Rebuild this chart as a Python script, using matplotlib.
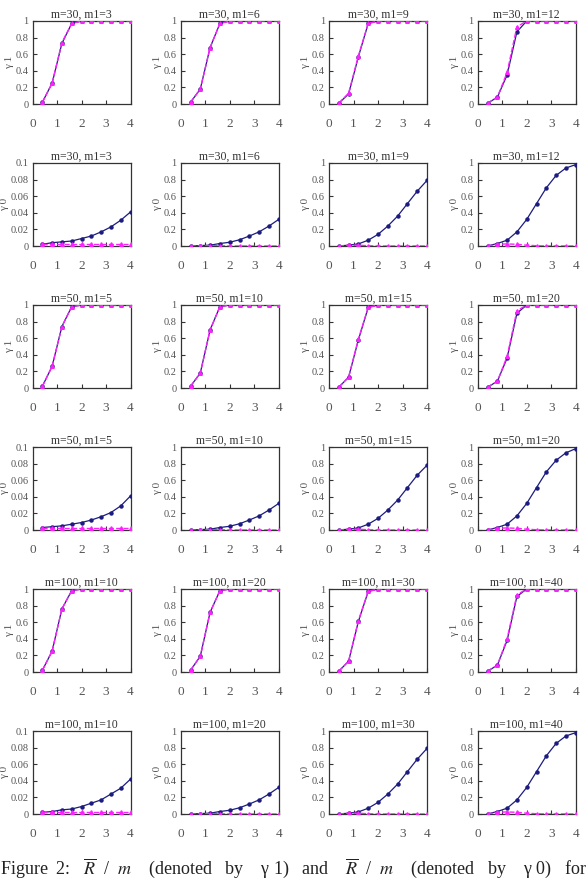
import matplotlib
matplotlib.use("Agg")
import matplotlib.pyplot as plt

# x positions of the data points
x = [0.4, 0.8, 1.2, 1.6, 2.0, 2.4, 2.8, 3.2, 3.6, 4.0]

m_values = [30, 50, 100]
m1_values = {30: [3, 6, 9, 12], 50: [5, 10, 15, 20], 100: [10, 20, 30, 40]}

# gamma 1 (simulation, navy) per m, one list per column
g1_sim_m30 = [[0.02, 0.25, 0.73, 0.97, 1, 1, 1, 1, 1, 1],
              [0.02, 0.18, 0.68, 0.97, 1, 1, 1, 1, 1, 1],
              [0.01, 0.12, 0.57, 0.97, 1, 1, 1, 1, 1, 1],
              [0.01, 0.08, 0.35, 0.87, 1, 1, 1, 1, 1, 1]]
g1_sim_m50 = [[0.02, 0.26, 0.74, 0.98, 1, 1, 1, 1, 1, 1],
              [0.02, 0.18, 0.70, 0.98, 1, 1, 1, 1, 1, 1],
              [0.01, 0.13, 0.58, 0.97, 1, 1, 1, 1, 1, 1],
              [0.01, 0.08, 0.36, 0.90, 1, 1, 1, 1, 1, 1]]
g1_sim_m100 = [[0.02, 0.25, 0.76, 0.98, 1, 1, 1, 1, 1, 1],
               [0.02, 0.19, 0.72, 0.98, 1, 1, 1, 1, 1, 1],
               [0.01, 0.13, 0.61, 0.97, 1, 1, 1, 1, 1, 1],
               [0.01, 0.08, 0.38, 0.91, 1, 1, 1, 1, 1, 1]]
# gamma 1 (theory, magenta)
g1_thy_m30 = [[0.02, 0.25, 0.74, 0.97, 1, 1, 1, 1, 1, 1],
              [0.02, 0.18, 0.68, 0.97, 1, 1, 1, 1, 1, 1],
              [0.01, 0.13, 0.58, 0.97, 1, 1, 1, 1, 1, 1],
              [0.01, 0.08, 0.38, 0.93, 1, 1, 1, 1, 1, 1]]
g1_thy_m50 = [[0.02, 0.26, 0.74, 0.98, 1, 1, 1, 1, 1, 1],
              [0.02, 0.18, 0.70, 0.98, 1, 1, 1, 1, 1, 1],
              [0.01, 0.13, 0.59, 0.97, 1, 1, 1, 1, 1, 1],
              [0.01, 0.08, 0.38, 0.93, 1, 1, 1, 1, 1, 1]]
g1_thy_m100 = [[0.02, 0.25, 0.76, 0.98, 1, 1, 1, 1, 1, 1],
               [0.02, 0.19, 0.72, 0.98, 1, 1, 1, 1, 1, 1],
               [0.01, 0.13, 0.62, 0.97, 1, 1, 1, 1, 1, 1],
               [0.01, 0.08, 0.40, 0.93, 1, 1, 1, 1, 1, 1]]

# gamma 0 (simulation, navy)
g0_sim_m30 = [[0.002, 0.004, 0.005, 0.006, 0.009, 0.012, 0.017, 0.023, 0.031, 0.041],
              [0.0, 0.005, 0.01, 0.03, 0.045, 0.075, 0.12, 0.17, 0.24, 0.32],
              [0.0, 0.01, 0.025, 0.07, 0.14, 0.24, 0.36, 0.51, 0.66, 0.79],
              [0.0, 0.03, 0.07, 0.17, 0.32, 0.51, 0.70, 0.85, 0.94, 0.98]]
g0_sim_m50 = [[0.003, 0.004, 0.005, 0.007, 0.009, 0.012, 0.016, 0.021, 0.029, 0.041],
              [0.0, 0.005, 0.01, 0.03, 0.045, 0.075, 0.12, 0.17, 0.24, 0.32],
              [0.0, 0.01, 0.025, 0.07, 0.14, 0.24, 0.36, 0.51, 0.66, 0.78],
              [0.0, 0.03, 0.07, 0.17, 0.32, 0.51, 0.70, 0.84, 0.93, 0.98]]
g0_sim_m100 = [[0.002, 0.003, 0.005, 0.006, 0.009, 0.013, 0.017, 0.024, 0.031, 0.042],
               [0.0, 0.005, 0.01, 0.03, 0.045, 0.075, 0.12, 0.17, 0.24, 0.32],
               [0.0, 0.01, 0.025, 0.07, 0.14, 0.24, 0.36, 0.51, 0.66, 0.79],
               [0.0, 0.03, 0.07, 0.17, 0.32, 0.51, 0.70, 0.85, 0.94, 0.98]]
# gamma 0 (theory, magenta)
g0_thy_10 = [0.002, 0.002, 0.002, 0.002, 0.002, 0.002, 0.002, 0.002, 0.002, 0.002]
g0_thy_20 = [0.0, 0.003, 0.005, 0.003, 0.0, 0.0, 0.0, 0.0, 0.0, 0.0]
g0_thy_30 = [0.0, 0.01, 0.01, 0.003, 0.0, 0.0, 0.0, 0.0, 0.0, 0.0]
g0_thy_40 = [0.0, 0.02, 0.025, 0.02, 0.01, 0.003, 0.0, 0.0, 0.0, 0.0]

g1_sim = {30: g1_sim_m30, 50: g1_sim_m50, 100: g1_sim_m100}
g1_thy = {30: g1_thy_m30, 50: g1_thy_m50, 100: g1_thy_m100}
g0_sim = {30: g0_sim_m30, 50: g0_sim_m50, 100: g0_sim_m100}
g0_thy = [g0_thy_10, g0_thy_20, g0_thy_30, g0_thy_40]

W, H = 587, 880
fig = plt.figure(figsize=(W / 100, H / 100), dpi=100)
plt.rcParams['font.family'] = ['Liberation Serif', 'DejaVu Serif']
plt.rcParams['mathtext.fontset'] = 'stix'

gray = '#555555'
navy = '#1c1c80'
magenta = '#ff20ff'

col_left = [32.5, 180.7, 329, 477.7]
row_top = [21, 163, 305, 447, 589, 731]
aw, ah = 98, 83

for i, m in enumerate(m_values):
    for g in range(2):  # 0 -> gamma1 row, 1 -> gamma0 row
        r = i * 2 + g
        for c in range(4):
            l = col_left[c]
            t = row_top[r]
            ax = fig.add_axes([l / W, 1 - (t + ah) / H, aw / W, ah / H])
            if g == 0:
                ys = g1_sim[m][c]
                yt = g1_thy[m][c]
                ymax = 1.0
                lab = 'γ 1'
            else:
                ys = g0_sim[m][c]
                yt = g0_thy[c]
                ymax = 0.1 if c == 0 else 1.0
                lab = 'γ 0'
            ax.plot(x, ys, color=navy, lw=0.9, marker='o', ms=2.2, zorder=3)
            ax.plot(x, yt, color=magenta, lw=1.0, ls='--', marker='^', ms=2.6, zorder=4)
            ax.set_xlim(0, 4)
            ax.set_ylim(0, ymax)
            ax.set_xticks([0, 1, 2, 3, 4])
            if ymax == 1.0:
                ax.set_yticks([0, 0.2, 0.4, 0.6, 0.8, 1])
                ax.set_yticklabels(['0', '0.2', '0.4', '0.6', '0.8', '1'])
            else:
                ax.set_yticks([0, 0.02, 0.04, 0.06, 0.08, 0.1])
                ax.set_yticklabels(['0', '0.02', '0.04', '0.06', '0.08', '0.1'])
            ax.tick_params(axis='x', direction='in', length=3, pad=10,
                           labelsize=9.5, labelcolor=gray, color='#333333')
            ax.tick_params(axis='y', direction='in', length=3, pad=3,
                           labelsize=7.5, labelcolor=gray, color='#333333')
            for s in ax.spines.values():
                s.set_color('#333333')
                s.set_linewidth(0.9)
            ax.set_title('m=%d, m1=%d' % (m, m1_values[m][c]), fontsize=8.5,
                         color='#333333', pad=1.5)
            ax.set_ylabel(lab, fontsize=8, color=gray, labelpad=1)

fig.text(0.0, 1 - 868 / H,
         r'Figure  2:   $\overline{R}$  /  $m$    (denoted   by    γ 1)   and    $\overline{R}$  /  $m$    (denoted   by    γ 0)   for',
         fontsize=13, color='#222222', va='center', ha='left')

fig.savefig('out.png', dpi=100)
